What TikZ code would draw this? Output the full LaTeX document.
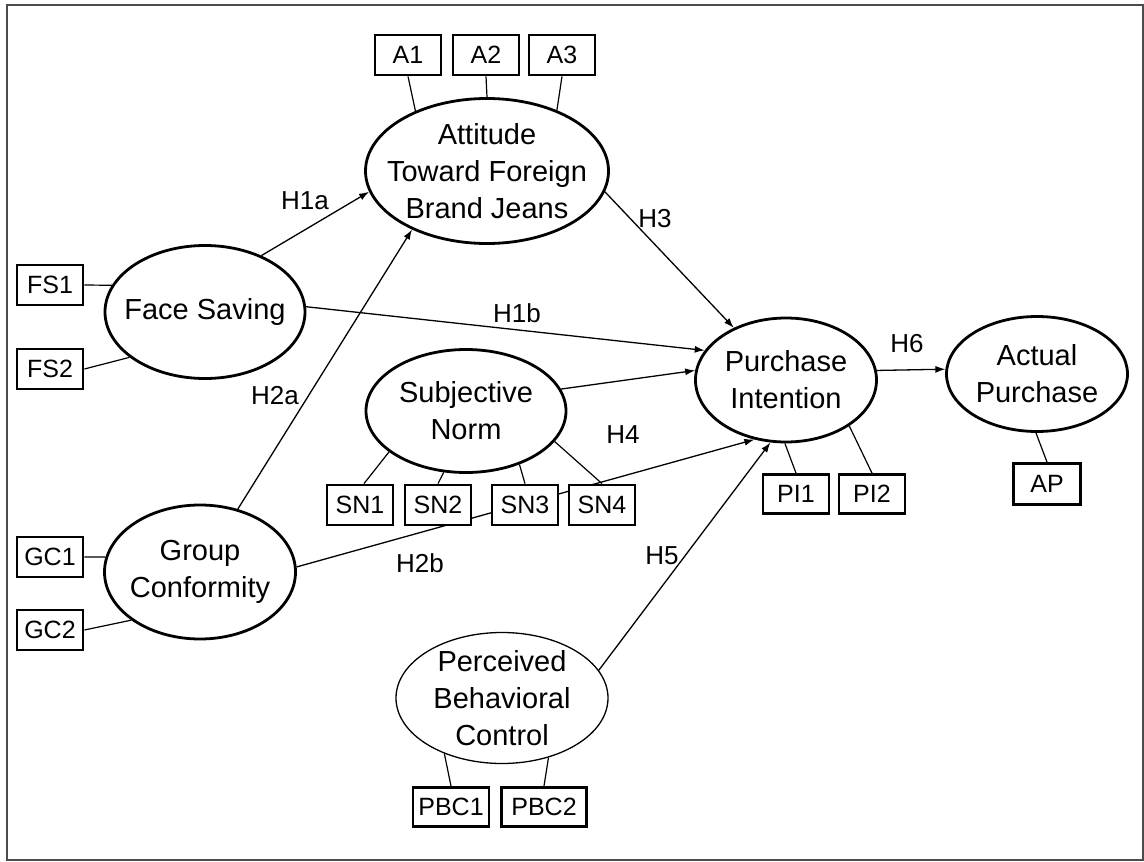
\documentclass[tikz,border=0pt]{standalone}
\usepackage{fontspec}
\setmainfont{Liberation Sans}
\usetikzlibrary{shapes.geometric,arrows.meta,backgrounds}

\tikzset{
  latent/.style={ellipse, draw, line width=2.8pt, fill=white, inner sep=0pt},
  latentthin/.style={latent, line width=1.3pt},
  ltext/.style={align=center, inner sep=0pt, font=\fontsize{29}{37}\selectfont},
  ind/.style={rectangle, draw, line width=2.8pt, fill=white, inner sep=0pt,
              minimum width=66pt, minimum height=40pt, font=\fontsize{25}{29}\selectfont},
  load/.style={line width=1.2pt},
  causal/.style={line width=1.3pt, -{Latex[length=10pt,width=7pt]}},
  hyp/.style={inner sep=0pt, font=\fontsize{26}{30}\selectfont},
}

\begin{document}
\begin{tikzpicture}[x=1pt,y=-1pt]
\useasboundingbox (0,0) rectangle (1144,862);
\draw[line width=2pt, black!70] (7,5) rectangle (1143,860);

% latent constructs
\node[latent, minimum width=243pt, minimum height=145pt] (att) at (487,171) {};
\node[ltext] at (att) {Attitude\\Toward Foreign\\Brand Jeans};
\node[latent, minimum width=200pt, minimum height=133pt] (fs) at (205,312) {};
\node[ltext] at (fs) {Face Saving};
\node[latent, minimum width=191pt, minimum height=134pt] (gc) at (200,572) {};
\node[ltext] at (gc) {Group\\Conformity};
\node[latent, minimum width=200pt, minimum height=123pt] (sn) at (466,411) {};
\node[ltext] at (sn) {Subjective\\Norm};
\node[latent, minimum width=181pt, minimum height=124pt] (pi) at (786,380) {};
\node[ltext] at (pi) {Purchase\\Intention};
\node[latent, minimum width=181pt, minimum height=115pt] (ap) at (1037,374) {};
\node[ltext] at (ap) {Actual\\Purchase};
\node[latentthin, minimum width=212pt, minimum height=131pt] (pbc) at (502,698) {};
\node[ltext] at (pbc) {Perceived\\Behavioral\\Control};

% indicators
\node[ind] (A1) at (408,55) {A1};
\node[ind] (A2) at (486,55) {A2};
\node[ind] (A3) at (562,55) {A3};
\node[ind] (FS1) at (50,285) {FS1};
\node[ind] (FS2) at (50,369) {FS2};
\node[ind] (GC1) at (50,557) {GC1};
\node[ind] (GC2) at (50,630) {GC2};
\node[ind] (SN1) at (360,505) {SN1};
\node[ind] (SN2) at (438,505) {SN2};
\node[ind] (SN3) at (525,505) {SN3};
\node[ind] (SN4) at (602,505) {SN4};
\node[ind, minimum height=39pt] (PI1) at (796,494) {PI1};
\node[ind, minimum height=39pt] (PI2) at (872,494) {PI2};
\node[ind, minimum width=67pt, minimum height=41pt] (AP) at (1047,484) {AP};
\node[ind, minimum width=76pt, minimum height=39pt] (PBC1) at (451,807) {PBC1};
\node[ind, minimum width=85pt, minimum height=39pt] (PBC2) at (544,807) {PBC2};

% hypothesis labels
\node[hyp] (h1a) at (305,201) {H1a};
\node[hyp] (h1b) at (517,313) {H1b};
\node[hyp] (h2a) at (275,396) {H2a};
\node[hyp] (h2b) at (420,563) {H2b};
\node[hyp] (h3)  at (655,219) {H3};
\node[hyp] (h4)  at (623,435) {H4};
\node[hyp] (h5)  at (662,556) {H5};
\node[hyp] (h6)  at (907,344) {H6};

\begin{scope}[on background layer]
% measurement loadings
\draw[load] (A1.south) -- (att.140);
\draw[load] (A2.south) -- (att.90);
\draw[load] (A3.south) -- (att.41);
\draw[load] (FS1.east) -- (fs.164);
\draw[load] (FS2.east) -- (fs.211);
\draw[load] (GC1.east) -- (gc.171);
\draw[load] (GC2.east) -- (gc.215);
\draw[load] ([xshift=4pt]SN1.north) -- (sn.208);
\draw[load] (SN2.north) -- (sn.250);
\draw[load] (SN3.north) -- (sn.315);
\draw[load] (SN4.north) -- (sn.341);
\draw[load] (PI1.north) -- (pi.269);
\draw[load] (PI2.north) -- (pi.324);
\draw[load] (AP.north) -- (ap.269);
\draw[load] (PBC1.north) -- (pbc.224);
\draw[load] (PBC2.north) -- (pbc.308);
% structural paths
\draw[causal] (fs.45) -- (att.190);
\draw[causal] (fs.3) -- (pi.160);
\draw[causal] (gc.59) -- (att.218);
\draw[causal] (gc.3) -- (pi.242);
\draw[causal] (att.350) -- (pi.135);
\draw[causal] (sn.13) -- (pi.174);
\draw[causal] (pbc.16) -- (pi.256);
\draw[causal] (pi.6) -- (ap.177);
\end{scope}
\end{tikzpicture}
\end{document}
